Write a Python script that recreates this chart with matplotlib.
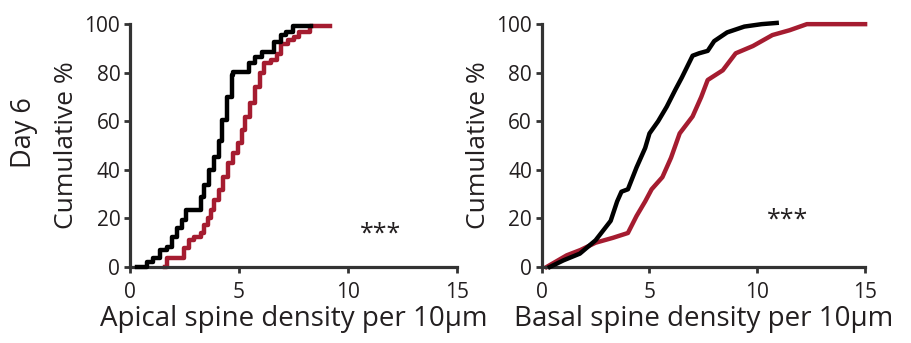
import matplotlib
matplotlib.use("Agg")
import matplotlib.pyplot as plt

# Apical (left) - step ECDF points (x where curve jumps, y after jump)
apical_ctrl_x = [0.3, 0.76, 1.07, 1.38, 1.69, 1.93, 2.16, 2.39, 2.55, 3.25, 3.40, 3.64, 3.87, 4.10,
                 4.20, 4.43, 4.66, 4.72, 5.44, 5.75, 6.06, 6.6, 6.91, 7.15, 7.46, 8.31]
apical_ctrl_y = [0, 2.2, 3.6, 7, 8.4, 12.5, 16, 19.3, 23.5, 29, 33.7, 40, 45.4, 52,
                 60.5, 70, 79, 80.4, 83.8, 86.5, 88.6, 92.7, 95.5, 96.8, 99.3, 99.3]
apical_exp_x = [1.62, 1.69, 2.47, 2.70, 2.94, 3.25, 3.40, 3.56, 3.72, 3.87, 4.10, 4.26, 4.49, 4.72,
                4.96, 5.13, 5.28, 5.52, 5.75, 5.98, 6.14, 6.45, 6.76, 6.91, 7.23, 7.54, 7.77, 8.24, 9.17]
apical_exp_y = [0, 3.6, 7.7, 11, 12.5, 13.9, 17.3, 20, 23.5, 27.6, 31.7, 37.2, 42.7, 46.8,
                50.9, 56.4, 61.9, 67.4, 74.2, 79.7, 83.8, 85.2, 87.9, 92, 93.4, 94.8, 96.8, 99.3, 99.3]

# Basal (right)
basal_ctrl_x = [0.38, 1.0, 1.77, 2.5, 3.2, 3.5, 3.7, 4.0, 4.4, 4.8, 5.0, 5.4, 5.8, 6.2, 6.5, 7.0,
                7.3, 7.7, 8.0, 8.6, 9.4, 10.2, 10.9]
basal_ctrl_y = [0, 2.7, 5.5, 11, 19, 27, 31, 32, 41, 49, 55, 60, 66, 73, 78, 87,
                88, 89, 93, 96.6, 99, 100, 100.5]
basal_exp_x = [0.23, 1.16, 1.8, 2.5, 3.3, 4.0, 4.4, 4.8, 5.1, 5.6, 6.0, 6.4, 7.0, 7.4, 7.7, 8.4,
               9.0, 9.8, 10.7, 11.5, 12.3, 15.0]
basal_exp_y = [0, 4.8, 7, 10, 12, 14, 21, 27, 32, 37, 45, 55, 62, 70, 77, 81,
               88, 91, 95.5, 97.5, 100, 100]

xticks = [0, 5, 10, 15]
yticks = [0, 20, 40, 60, 80, 100]
RED = "#a51c30"
BLACK = "#000000"
SPINE = "#333333"
TEXT = "#231f20"

plt.rcParams['font.family'] = ['Open Sans', 'DejaVu Sans']

fig = plt.figure(figsize=(9.11, 3.43), dpi=100)
ax1 = fig.add_axes([0.1427, 0.2216, 0.359, 0.708])
ax2 = fig.add_axes([0.5946, 0.2216, 0.355, 0.708])

ax1.plot(apical_ctrl_x, apical_ctrl_y, color=BLACK, lw=3.2, drawstyle='steps-post', clip_on=False, zorder=3)
ax1.plot(apical_exp_x, apical_exp_y, color=RED, lw=3.2, drawstyle='steps-post', clip_on=False, zorder=2)
ax2.plot(basal_ctrl_x, basal_ctrl_y, color=BLACK, lw=3.2, clip_on=False, zorder=3)
ax2.plot(basal_exp_x, basal_exp_y, color=RED, lw=3.2, clip_on=False, zorder=2)

for ax, xl in [(ax1, "Apical spine density per 10µm"), (ax2, "Basal spine density per 10µm")]:
    ax.set_xlim(0, 15)
    ax.set_ylim(0, 100)
    ax.set_xticks(xticks)
    ax.set_yticks(yticks)
    for s in ['top', 'right']:
        ax.spines[s].set_visible(False)
    for s in ['left', 'bottom']:
        ax.spines[s].set_color(SPINE)
        ax.spines[s].set_linewidth(2.3)
    ax.tick_params(direction='out', length=4, width=2, color=SPINE, labelsize=15,
                   labelcolor=TEXT)
    ax.tick_params(axis='x', pad=6.5)
    ax.tick_params(axis='y', pad=3)
    ax.set_xlabel(xl, fontsize=20, labelpad=2, color=TEXT)
    ax.set_ylabel("Cumulative %", fontsize=19, labelpad=4, color=TEXT)

ax1.text(11.5, 13.5, "***", fontsize=18, ha='center', va='center', color=TEXT)
ax2.text(11.4, 19.5, "***", fontsize=18, ha='center', va='center', color=TEXT)
fig.text(0.026, 0.612, "Day 6", rotation=90, fontsize=19.5, ha='center', va='center', color=TEXT)

fig.savefig("out.png", dpi=100)
